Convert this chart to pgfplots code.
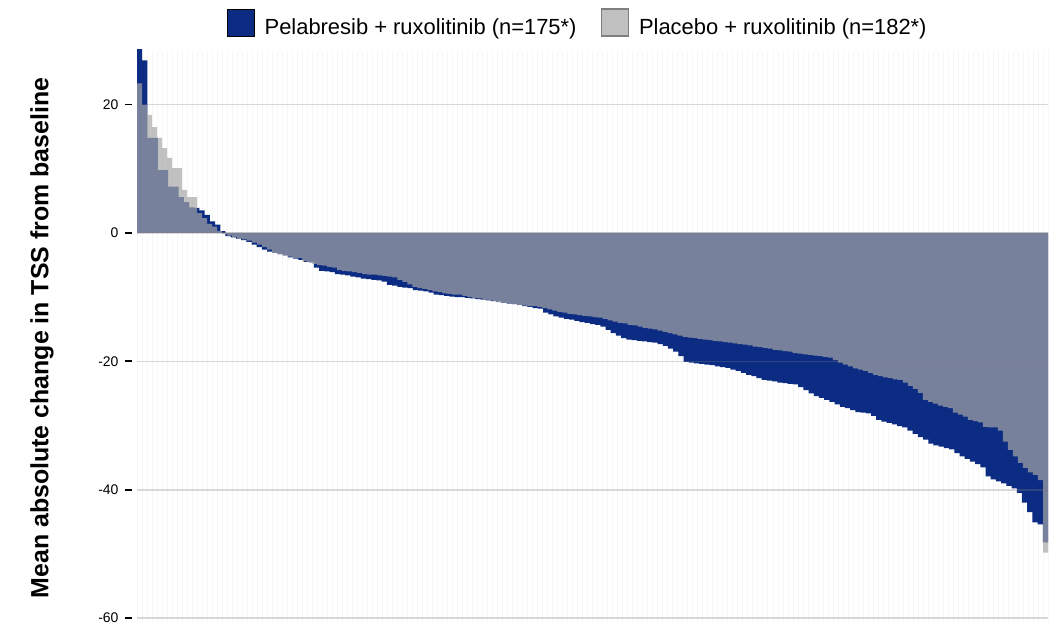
\documentclass[border=0pt]{standalone}
\usepackage{fontspec}
\setmainfont{Liberation Sans}
\usepackage{pgfplots}
\usepackage{pgfplotstable}
\pgfplotsset{compat=1.18}

\definecolor{pelblue}{HTML}{0C2B82}
\definecolor{plcgray}{HTML}{A6A6A6}
\definecolor{leggray}{HTML}{C0C0C0}
\definecolor{legedge}{HTML}{7F7F7F}

% pelabresib + ruxolitinib, sorted; last row repeated to close the final step
\pgfplotstableread{
v
32
26.9
14.8
14.8
9.8
9.8
7.2
7.2
5.6
4.8
4.0
3.9
3.5
2.8
1.8
1.3
0.3
-0.5
-0.7
-0.9
-1.1
-1.4
-1.8
-2.2
-2.6
-2.9
-3.1
-3.3
-3.5
-3.8
-4.0
-4.2
-4.5
-4.6
-5.4
-5.9
-6.0
-6.1
-6.4
-6.5
-6.6
-6.8
-6.9
-7.1
-7.2
-7.3
-7.4
-7.6
-8.1
-8.2
-8.4
-8.5
-8.6
-8.9
-9.0
-9.1
-9.3
-9.6
-9.7
-9.8
-9.9
-10.0
-10.0
-10.1
-10.2
-10.3
-10.4
-10.5
-10.6
-10.7
-10.9
-11.0
-11.1
-11.2
-11.4
-11.5
-11.7
-11.8
-12.4
-12.7
-13.0
-13.2
-13.4
-13.5
-13.7
-13.9
-14.0
-14.2
-14.3
-14.6
-15.1
-15.6
-16.0
-16.4
-16.6
-16.7
-16.8
-16.9
-17.0
-17.1
-17.3
-17.6
-18.0
-18.5
-19.2
-20.1
-20.2
-20.3
-20.4
-20.5
-20.6
-20.8
-20.9
-21.0
-21.3
-21.5
-21.8
-22.1
-22.3
-22.6
-22.9
-23.0
-23.1
-23.3
-23.4
-23.5
-23.6
-24.0
-24.5
-25.0
-25.4
-25.7
-26.0
-26.3
-26.7
-27.1
-27.3
-27.6
-27.9
-28.0
-28.1
-28.5
-29.1
-29.4
-29.6
-29.8
-30.1
-30.3
-30.8
-31.3
-31.8
-32.2
-32.8
-33.1
-33.3
-33.5
-33.7
-34.3
-34.8
-35.2
-35.6
-36.0
-36.5
-37.9
-38.4
-38.7
-39.0
-39.4
-39.8
-40.5
-42.0
-43.5
-45.1
-45.4
-48.2
-48.2
}\pelab

% placebo + ruxolitinib, sorted; last row repeated to close the final step
\pgfplotstableread{
v
23.3
19.9
18.4
16.5
14.8
13.2
11.7
10.1
10.1
6.7
5.6
5.6
3.1
2.3
1.4
1.0
0.3
-0.2
-0.4
-0.6
-0.9
-1.0
-1.2
-1.5
-1.8
-2.2
-2.6
-3.1
-3.3
-3.5
-3.7
-3.9
-3.9
-4.4
-4.5
-4.8
-5.0
-5.1
-5.3
-5.4
-5.8
-5.9
-6.0
-6.1
-6.2
-6.4
-6.5
-6.5
-6.6
-6.7
-6.8
-6.9
-7.3
-7.6
-8.0
-8.4
-8.6
-8.7
-8.9
-9.1
-9.2
-9.4
-9.5
-9.6
-9.6
-9.8
-10.0
-10.1
-10.2
-10.4
-10.5
-10.6
-10.8
-10.9
-11.0
-11.1
-11.2
-11.3
-11.4
-11.4
-11.5
-11.7
-11.9
-12.1
-12.3
-12.4
-12.6
-12.7
-12.8
-12.9
-13.0
-13.1
-13.2
-13.4
-13.6
-13.8
-14.0
-14.1
-14.3
-14.4
-14.6
-14.8
-14.9
-15.0
-15.2
-15.4
-15.6
-15.8
-16.0
-16.2
-16.3
-16.4
-16.5
-16.6
-16.7
-16.8
-16.9
-17.0
-17.1
-17.2
-17.3
-17.4
-17.5
-17.7
-17.8
-17.9
-18.0
-18.2
-18.3
-18.4
-18.5
-18.7
-18.8
-18.9
-19.0
-19.1
-19.2
-19.3
-19.4
-19.8
-20.2
-20.5
-20.8
-21.1
-21.3
-21.5
-21.8
-22.1
-22.3
-22.5
-22.6
-22.8
-22.9
-23.3
-23.8
-24.3
-24.9
-26.0
-26.3
-26.6
-26.9
-27.1
-27.3
-28.0
-28.3
-28.6
-29.1
-29.3
-29.5
-30.2
-30.3
-30.3
-30.8
-32.5
-33.8
-34.8
-35.8
-36.6
-37.3
-37.7
-38.5
-49.8
-49.8
}\placebo

\pgfplotsset{
  waterfall/.style={
    at={(0,0)}, anchor=south west,
    scale only axis, width=911bp, height=572bp,
    ymin=-60.6, ymax=28.5,
  },
}

\begin{document}
\begin{tikzpicture}
\path[use as bounding box] (-137bp,-4bp) rectangle (912bp,622bp);

% background: faint bar separators, y ticks and labels
\begin{axis}[
  waterfall,
  xmin=0, xmax=182,
  axis line style={draw=none},
  xtick={0,1,...,182}, xticklabels={}, xtick style={draw=none},
  xmajorgrids, x grid style={black!3, line width=0.4bp},
  ytick={-60,-40,-20,0,20}, yticklabels={-60,-40,-20,0,20},
  ytick pos=left, tick align=outside, major tick length=7bp,
  ytick style={black, line width=1.8bp, xshift=-5bp},
  yticklabel style={font=\fontsize{14}{16}\selectfont, xshift=-8bp},
]
\addplot[draw=none] coordinates {(0,0)};
\end{axis}

% pelabresib bars
\begin{axis}[waterfall, xmin=0, xmax=175, hide axis]
\addplot[const plot, fill=pelblue, draw=none] table[x expr=\coordindex, y=v] {\pelab} \closedcycle;
\end{axis}

% placebo bars on top, grid lines and legend
\begin{axis}[
  waterfall,
  xmin=0, xmax=182,
  axis on top,
  axis line style={draw=none},
  xtick=\empty,
  ytick={-60,-40,-20,0,20}, yticklabels={}, ytick style={draw=none},
  ymajorgrids, y grid style={black!50, opacity=0.3, line width=1.5bp},
  legend style={at={(0.484,1)}, anchor=south, yshift=12bp, draw=none, fill=none,
    legend columns=2, font=\fontsize{22}{24}\selectfont, inner sep=0pt,
    /tikz/every odd column/.append style={column sep=8bp},
    /tikz/every even column/.append style={column sep=22bp}},
  legend image code/.code={\draw[#1] (0bp,-9bp) rectangle (27bp,18bp);},
]
\addlegendimage{fill=pelblue, draw=none}
\addlegendentry{Pelabresib + ruxolitinib (n=175*)}
\addlegendimage{fill=leggray, draw=legedge, line width=1.5bp}
\addlegendentry{Placebo + ruxolitinib (n=182*)}
\addplot[const plot, fill=plcgray, fill opacity=0.7, draw=none, forget plot] table[x expr=\coordindex, y=v] {\placebo} \closedcycle;
\end{axis}

\node[rotate=90, font=\fontsize{25}{28}\selectfont\bfseries] at (-95bp,284bp) {Mean absolute change in TSS from baseline};
\end{tikzpicture}
\end{document}
